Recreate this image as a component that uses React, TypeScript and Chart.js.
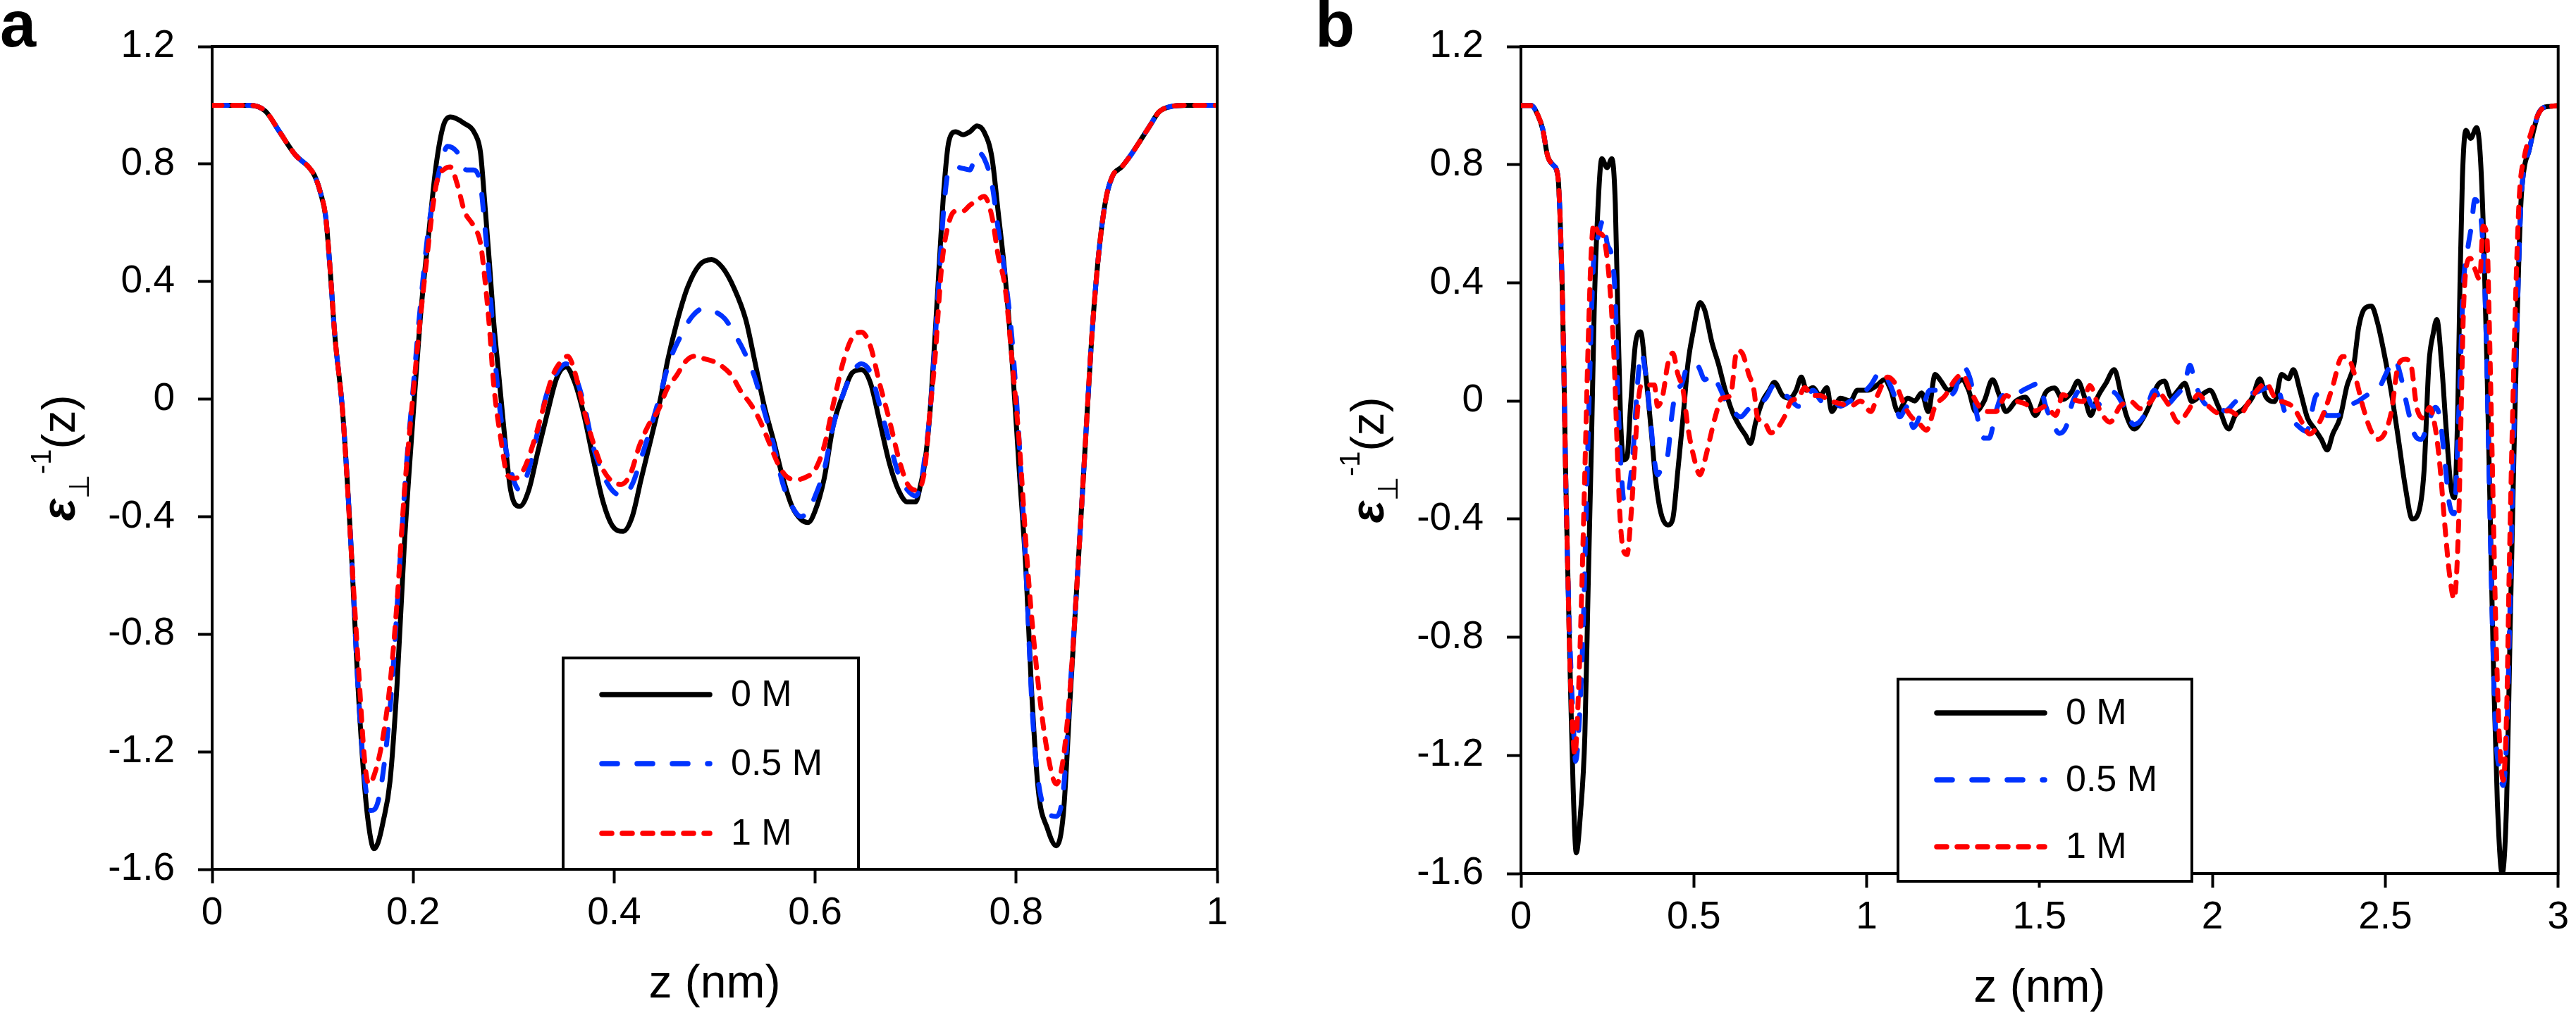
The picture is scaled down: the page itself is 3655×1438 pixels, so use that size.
import React, { useEffect, useRef } from 'react';
import { Chart, registerables } from 'chart.js';

Chart.register(...registerables);

const FONT = '"Liberation Sans", Arial, "DejaVu Sans", sans-serif';

// ---------- tick values / labels ----------
const A_X_TICKS = [0, 0.2, 0.4, 0.6, 0.8, 1];
const A_X_LABELS = ['0', '0.2', '0.4', '0.6', '0.8', '1'];
const B_X_TICKS = [0, 0.5, 1, 1.5, 2, 2.5, 3];
const B_X_LABELS = ['0', '0.5', '1', '1.5', '2', '2.5', '3'];
const Y_TICKS = [-1.6, -1.2, -0.8, -0.4, 0, 0.4, 0.8, 1.2];
const Y_LABELS = ['-1.6', '-1.2', '-0.8', '-0.4', '0', '0.4', '0.8', '1.2'];
const SERIES_NAMES = ['0 M', '0.5 M', '1 M'];
const X_TITLE = 'z (nm)';
const PANEL_LETTERS = ['a', 'b'];

// ---------- panel a data: [z (nm), eps^-1] ----------
const A_0M: [number, number][] = [
  [0, 1], [0.02, 1], [0.037, 1], [0.053, 0.98], [0.067, 0.91], [0.083, 0.83], [0.096, 0.79], [0.102, 0.76],
  [0.108, 0.7], [0.113, 0.62], [0.117, 0.46], [0.122, 0.22], [0.13, -0.05], [0.139, -0.55], [0.145, -0.97],
  [0.152, -1.33], [0.157, -1.48], [0.161, -1.53], [0.165, -1.51], [0.17, -1.44], [0.177, -1.3], [0.184, -0.97],
  [0.191, -0.51], [0.2, -0.055], [0.207, 0.27], [0.216, 0.58], [0.223, 0.8], [0.23, 0.93], [0.237, 0.96],
  [0.25, 0.94], [0.262, 0.9], [0.267, 0.84], [0.271, 0.68], [0.276, 0.46], [0.28, 0.27], [0.285, 0.09],
  [0.29, -0.09], [0.297, -0.31], [0.306, -0.365], [0.315, -0.31], [0.324, -0.18], [0.333, -0.055], [0.343, 0.073],
  [0.352, 0.11], [0.361, 0.055], [0.37, -0.055], [0.379, -0.2], [0.389, -0.35], [0.398, -0.43], [0.409, -0.45],
  [0.418, -0.4], [0.427, -0.27], [0.437, -0.13], [0.446, 0], [0.453, 0.128], [0.462, 0.256], [0.473, 0.38],
  [0.485, 0.457], [0.497, 0.475], [0.508, 0.447], [0.519, 0.38], [0.531, 0.27], [0.54, 0.128], [0.549, -0.018],
  [0.559, -0.146], [0.568, -0.27], [0.577, -0.365], [0.586, -0.41], [0.593, -0.42], [0.6, -0.38], [0.609, -0.27],
  [0.618, -0.09], [0.628, 0.018], [0.637, 0.09], [0.646, 0.1], [0.655, 0.055], [0.664, -0.073], [0.674, -0.22],
  [0.683, -0.31], [0.692, -0.35], [0.7, -0.35], [0.705, -0.29], [0.709, -0.22], [0.714, -0.055], [0.719, 0.2],
  [0.724, 0.49], [0.728, 0.71], [0.733, 0.877], [0.74, 0.91], [0.747, 0.9], [0.754, 0.91], [0.761, 0.93],
  [0.768, 0.91], [0.776, 0.82], [0.782, 0.64], [0.789, 0.42], [0.796, 0.128], [0.803, -0.24], [0.81, -0.6],
  [0.815, -0.97], [0.822, -1.33], [0.831, -1.46], [0.84, -1.52], [0.847, -1.41], [0.854, -1.0], [0.861, -0.6],
  [0.868, -0.2], [0.875, 0.2], [0.882, 0.49], [0.889, 0.676], [0.896, 0.76], [0.905, 0.79], [0.914, 0.83],
  [0.923, 0.877], [0.933, 0.93], [0.942, 0.977], [0.953, 0.995], [0.97, 1], [1, 1],
];
const A_05M: [number, number][] = [
  [0, 1], [0.02, 1], [0.037, 1], [0.053, 0.98], [0.067, 0.91], [0.083, 0.83], [0.096, 0.79], [0.102, 0.76],
  [0.108, 0.7], [0.113, 0.62], [0.117, 0.46], [0.122, 0.22], [0.13, -0.05], [0.139, -0.55], [0.145, -0.97],
  [0.152, -1.3], [0.158, -1.4], [0.165, -1.37], [0.172, -1.22], [0.179, -0.97], [0.186, -0.6], [0.193, -0.24],
  [0.2, 0.037], [0.207, 0.31], [0.216, 0.6], [0.223, 0.73], [0.23, 0.83], [0.234, 0.86], [0.244, 0.84],
  [0.253, 0.78], [0.26, 0.78], [0.267, 0.73], [0.271, 0.6], [0.276, 0.4], [0.28, 0.2], [0.287, -0.055],
  [0.297, -0.24], [0.306, -0.31], [0.315, -0.24], [0.324, -0.11], [0.333, 0.018], [0.343, 0.09], [0.352, 0.12],
  [0.361, 0.08], [0.37, -0.018], [0.379, -0.16], [0.389, -0.256], [0.398, -0.31], [0.409, -0.33], [0.418, -0.29],
  [0.427, -0.2], [0.437, -0.09], [0.446, 0.018], [0.455, 0.128], [0.467, 0.22], [0.478, 0.283], [0.49, 0.31],
  [0.499, 0.3], [0.51, 0.274], [0.52, 0.22], [0.529, 0.164], [0.54, 0.073], [0.549, -0.037], [0.559, -0.16],
  [0.568, -0.29], [0.577, -0.365], [0.586, -0.4], [0.593, -0.38], [0.6, -0.33], [0.609, -0.24], [0.618, -0.09],
  [0.628, 0.018], [0.637, 0.09], [0.646, 0.12], [0.655, 0.09], [0.664, -0.018], [0.674, -0.146], [0.683, -0.256],
  [0.692, -0.31], [0.7, -0.33], [0.705, -0.29], [0.709, -0.2], [0.714, -0.055], [0.719, 0.18], [0.724, 0.45],
  [0.728, 0.65], [0.733, 0.78], [0.74, 0.79], [0.747, 0.785], [0.754, 0.78], [0.761, 0.84], [0.768, 0.82],
  [0.776, 0.73], [0.782, 0.58], [0.789, 0.42], [0.796, 0.2], [0.803, -0.146], [0.81, -0.6], [0.816, -1.06],
  [0.822, -1.3], [0.832, -1.41], [0.84, -1.42], [0.847, -1.33], [0.854, -0.97], [0.861, -0.6], [0.868, -0.2],
  [0.875, 0.2], [0.882, 0.49], [0.889, 0.676], [0.896, 0.76], [0.905, 0.79], [0.914, 0.83], [0.923, 0.877],
  [0.933, 0.93], [0.942, 0.977], [0.953, 0.995], [0.97, 1], [1, 1],
];
const A_1M: [number, number][] = [
  [0, 1], [0.02, 1], [0.037, 1], [0.053, 0.98], [0.067, 0.91], [0.083, 0.83], [0.096, 0.79], [0.102, 0.76],
  [0.108, 0.7], [0.113, 0.62], [0.117, 0.46], [0.122, 0.22], [0.13, -0.05], [0.139, -0.55], [0.145, -0.88],
  [0.152, -1.24], [0.156, -1.31], [0.163, -1.26], [0.17, -1.15], [0.177, -0.97], [0.184, -0.69], [0.191, -0.33],
  [0.198, -0.055], [0.205, 0.2], [0.214, 0.49], [0.223, 0.73], [0.232, 0.785], [0.237, 0.79], [0.244, 0.73],
  [0.251, 0.64], [0.26, 0.59], [0.267, 0.53], [0.271, 0.42], [0.276, 0.24], [0.28, 0.055], [0.287, -0.13],
  [0.294, -0.26], [0.301, -0.27], [0.31, -0.24], [0.32, -0.146], [0.329, -0.037], [0.338, 0.073], [0.347, 0.128],
  [0.354, 0.146], [0.361, 0.09], [0.37, -0.037], [0.379, -0.146], [0.389, -0.24], [0.398, -0.28], [0.407, -0.29],
  [0.416, -0.256], [0.425, -0.16], [0.434, -0.09], [0.444, -0.037], [0.453, 0.037], [0.462, 0.08], [0.471, 0.128],
  [0.48, 0.146], [0.49, 0.137], [0.499, 0.128], [0.508, 0.11], [0.517, 0.08], [0.526, 0.027], [0.536, -0.018],
  [0.545, -0.073], [0.554, -0.146], [0.563, -0.22], [0.572, -0.265], [0.582, -0.274], [0.591, -0.265], [0.6, -0.24],
  [0.609, -0.16], [0.618, -0.018], [0.628, 0.128], [0.637, 0.21], [0.646, 0.228], [0.655, 0.18], [0.664, 0.055],
  [0.674, -0.073], [0.683, -0.2], [0.692, -0.29], [0.701, -0.31], [0.709, -0.24], [0.714, -0.05], [0.719, 0.128],
  [0.726, 0.457], [0.733, 0.6], [0.74, 0.64], [0.747, 0.64], [0.754, 0.66], [0.761, 0.676], [0.768, 0.69],
  [0.776, 0.62], [0.782, 0.49], [0.789, 0.38], [0.796, 0.128], [0.803, -0.146], [0.812, -0.6], [0.822, -0.97],
  [0.831, -1.2], [0.84, -1.31], [0.847, -1.22], [0.854, -0.97], [0.861, -0.6], [0.868, -0.2], [0.875, 0.2],
  [0.882, 0.49], [0.889, 0.676], [0.896, 0.76], [0.905, 0.79], [0.914, 0.83], [0.923, 0.877], [0.933, 0.93],
  [0.942, 0.977], [0.953, 0.995], [0.97, 1], [1, 1],
];

// ---------- panel b data ----------
const B_0M: [number, number][] = [
  [0, 1], [0.03, 1], [0.048, 0.97], [0.063, 0.92], [0.077, 0.83], [0.092, 0.8], [0.107, 0.76], [0.113, 0.63],
  [0.119, 0.4], [0.124, 0.126], [0.129, -0.23], [0.136, -0.6], [0.143, -0.95], [0.151, -1.31], [0.16, -1.53],
  [0.172, -1.4], [0.185, -1.13], [0.195, -0.6], [0.204, -0.144], [0.212, 0.31], [0.221, 0.61], [0.234, 0.82],
  [0.249, 0.79], [0.263, 0.82], [0.273, 0.667], [0.28, 0.31], [0.288, -0.054], [0.297, -0.2], [0.307, -0.19],
  [0.317, -0.018], [0.332, 0.2], [0.346, 0.234], [0.361, 0.09], [0.376, -0.09], [0.39, -0.27], [0.405, -0.38],
  [0.425, -0.42], [0.439, -0.4], [0.454, -0.234], [0.469, -0.054], [0.483, 0.126], [0.498, 0.234], [0.518, 0.333],
  [0.532, 0.306], [0.552, 0.2], [0.571, 0.126], [0.591, 0.036], [0.611, -0.036], [0.63, -0.081], [0.65, -0.117],
  [0.664, -0.144], [0.679, -0.072], [0.699, 0], [0.718, 0.036], [0.733, 0.063], [0.757, 0.018], [0.777, 0.009],
  [0.796, 0.036], [0.811, 0.081], [0.826, 0.036], [0.845, 0.045], [0.865, 0.018], [0.885, 0.045], [0.899, -0.036],
  [0.924, 0.009], [0.953, 0], [0.973, 0.036], [1.002, 0.036], [1.031, 0.054], [1.051, 0.072], [1.07, 0.036],
  [1.09, -0.036], [1.119, 0.009], [1.139, 0], [1.159, 0.027], [1.178, -0.036], [1.198, 0.09], [1.212, 0.072],
  [1.237, 0.036], [1.256, 0.054], [1.276, 0.072], [1.295, 0.036], [1.315, -0.036], [1.34, 0], [1.364, 0.072],
  [1.384, 0.018], [1.403, -0.036], [1.432, 0], [1.459, 0.013], [1.488, -0.049], [1.518, 0.029], [1.543, 0.044],
  [1.567, 0.005], [1.592, 0.029], [1.611, 0.067], [1.63, 0.013], [1.648, -0.049], [1.668, 0.013], [1.692, 0.06],
  [1.716, 0.106], [1.736, 0.021], [1.751, -0.049], [1.774, -0.095], [1.797, -0.064], [1.817, -0.018], [1.841, 0.052],
  [1.861, 0.067], [1.881, 0.013], [1.901, 0.036], [1.92, 0.06], [1.94, -0.002], [1.969, 0.021], [1.993, 0.036],
  [2.017, -0.018], [2.047, -0.095], [2.066, -0.049], [2.09, -0.026], [2.116, 0.013], [2.137, 0.075], [2.155, 0.013],
  [2.18, -0.002], [2.2, 0.09], [2.22, 0.075], [2.234, 0.106], [2.254, 0.032], [2.275, -0.058], [2.295, -0.094],
  [2.315, -0.13], [2.332, -0.166], [2.348, -0.112], [2.369, -0.058], [2.389, 0.05], [2.409, 0.123], [2.423, 0.249],
  [2.44, 0.312], [2.46, 0.321], [2.477, 0.267], [2.497, 0.159], [2.517, 0.032], [2.538, -0.13], [2.558, -0.292],
  [2.578, -0.4], [2.595, -0.382], [2.612, -0.238], [2.626, 0.123], [2.639, 0.231], [2.649, 0.276], [2.663, 0.123],
  [2.676, -0.094], [2.69, -0.292], [2.7, -0.328], [2.709, -0.058], [2.716, 0.393], [2.723, 0.754], [2.733, 0.916],
  [2.747, 0.889], [2.764, 0.925], [2.774, 0.844], [2.784, 0.573], [2.794, 0.123], [2.804, -0.418], [2.814, -0.959],
  [2.824, -1.356], [2.838, -1.6], [2.851, -1.356], [2.861, -0.779], [2.871, -0.238], [2.882, 0.303], [2.892, 0.664],
  [2.902, 0.79], [2.915, 0.844], [2.929, 0.916], [2.942, 0.97], [2.956, 0.992], [2.975, 0.997], [3, 1],
];
const B_05M: [number, number][] = [
  [0, 1], [0.03, 1], [0.048, 0.97], [0.063, 0.92], [0.077, 0.83], [0.092, 0.8], [0.107, 0.76], [0.113, 0.63],
  [0.119, 0.4], [0.124, 0.126], [0.129, -0.23], [0.136, -0.6], [0.146, -0.95], [0.153, -1.13], [0.158, -1.22],
  [0.168, -1.1], [0.18, -0.77], [0.19, -0.32], [0.2, 0.126], [0.209, 0.45], [0.224, 0.56], [0.237, 0.61],
  [0.25, 0.53], [0.263, 0.486], [0.273, 0.342], [0.28, 0.036], [0.29, -0.234], [0.299, -0.342], [0.312, -0.306],
  [0.325, -0.162], [0.337, 0.054], [0.348, 0.162], [0.361, 0.09], [0.374, -0.054], [0.386, -0.2], [0.395, -0.25],
  [0.41, -0.216], [0.425, -0.18], [0.436, -0.054], [0.449, 0.036], [0.464, 0.054], [0.478, 0.108], [0.493, 0.126],
  [0.513, 0.117], [0.532, 0.072], [0.552, 0.09], [0.571, 0.054], [0.596, -0.009], [0.615, -0.036], [0.635, -0.054],
  [0.659, -0.027], [0.684, -0.018], [0.708, 0.009], [0.733, 0.054], [0.757, 0.027], [0.777, 0.009], [0.802, -0.018],
  [0.826, 0.018], [0.845, 0.036], [0.87, 0], [0.895, 0.009], [0.924, -0.018], [0.953, 0], [0.982, 0.018],
  [1.012, 0.054], [1.041, 0.1], [1.061, 0.072], [1.08, 0.018], [1.095, -0.054], [1.119, -0.018], [1.134, -0.09],
  [1.159, -0.036], [1.183, 0.036], [1.207, 0.036], [1.232, 0.018], [1.256, 0.036], [1.276, 0.117], [1.3, 0.072],
  [1.32, -0.054], [1.34, -0.126], [1.354, -0.126], [1.374, -0.036], [1.393, 0.018], [1.423, 0.018], [1.452, 0.036],
  [1.479, 0.052], [1.498, 0.06], [1.518, -0.018], [1.537, -0.072], [1.557, -0.11], [1.577, -0.087], [1.596, -0.002],
  [1.626, 0.044], [1.655, -0.018], [1.685, -0.002], [1.714, 0.029], [1.744, -0.018], [1.773, -0.08], [1.803, -0.049],
  [1.832, 0.036], [1.861, -0.018], [1.891, 0.013], [1.92, 0.06], [1.935, 0.121], [1.95, 0.06], [1.979, -0.01],
  [2.008, -0.018], [2.037, -0.033], [2.067, -0.002], [2.096, 0.021], [2.126, 0.029], [2.155, 0.044], [2.184, 0.052],
  [2.213, -0.049], [2.243, -0.08], [2.272, -0.103], [2.302, 0.021], [2.331, -0.049], [2.361, -0.049], [2.39, -0.018],
  [2.42, -0.002], [2.449, 0.021], [2.478, 0.036], [2.508, 0.106], [2.527, 0.141], [2.544, 0.087], [2.564, -0.022],
  [2.584, -0.112], [2.604, -0.13], [2.624, -0.076], [2.645, -0.022], [2.658, -0.058], [2.672, -0.202], [2.685, -0.346],
  [2.699, -0.382], [2.712, -0.058], [2.726, 0.393], [2.739, 0.519], [2.749, 0.592], [2.759, 0.682], [2.769, 0.664],
  [2.78, 0.573], [2.79, 0.303], [2.8, -0.238], [2.81, -0.779], [2.82, -1.14], [2.83, -1.248], [2.841, -1.302],
  [2.851, -1.14], [2.861, -0.689], [2.871, -0.148], [2.882, 0.303], [2.892, 0.664], [2.902, 0.79], [2.915, 0.844],
  [2.929, 0.916], [2.942, 0.97], [2.956, 0.992], [2.975, 0.997], [3, 1],
];
const B_1M: [number, number][] = [
  [0, 1], [0.03, 1], [0.048, 0.97], [0.063, 0.92], [0.077, 0.83], [0.092, 0.8], [0.107, 0.76], [0.113, 0.63],
  [0.119, 0.4], [0.124, 0.126], [0.129, -0.23], [0.136, -0.6], [0.141, -0.86], [0.149, -1.1], [0.156, -1.2],
  [0.165, -1.03], [0.175, -0.68], [0.185, -0.234], [0.195, 0.216], [0.204, 0.52], [0.211, 0.6], [0.224, 0.57],
  [0.237, 0.56], [0.249, 0.486], [0.26, 0.342], [0.27, 0.126], [0.278, -0.144], [0.286, -0.38], [0.296, -0.505],
  [0.307, -0.52], [0.317, -0.41], [0.327, -0.234], [0.337, -0.036], [0.348, 0.054], [0.366, 0.054], [0.386, 0.054],
  [0.395, -0.018], [0.41, 0.018], [0.425, 0.126], [0.439, 0.162], [0.454, 0.09], [0.469, 0.036], [0.483, -0.09],
  [0.498, -0.18], [0.518, -0.25], [0.532, -0.2], [0.547, -0.126], [0.562, -0.054], [0.581, 0.009], [0.606, 0.018],
  [0.625, 0.171], [0.64, 0.162], [0.659, 0.09], [0.674, 0.036], [0.684, -0.054], [0.704, -0.072], [0.723, -0.108],
  [0.743, -0.09], [0.762, -0.054], [0.782, 0], [0.802, 0.009], [0.821, 0.045], [0.841, 0.018], [0.865, 0.018],
  [0.894, 0], [0.924, -0.009], [0.953, -0.018], [0.982, 0], [1.012, -0.036], [1.031, 0.018], [1.061, 0.081],
  [1.085, 0.054], [1.11, -0.018], [1.129, -0.054], [1.149, -0.072], [1.173, -0.099], [1.198, -0.018], [1.227, 0.018],
  [1.256, 0.072], [1.276, 0.09], [1.3, 0.036], [1.325, -0.018], [1.35, -0.036], [1.374, -0.036], [1.403, 0.018],
  [1.432, 0], [1.459, -0.01], [1.488, -0.033], [1.518, -0.018], [1.547, -0.049], [1.567, 0.021], [1.596, 0.005],
  [1.626, -0.002], [1.645, 0.052], [1.675, -0.033], [1.704, -0.072], [1.733, -0.018], [1.763, -0.002], [1.792, -0.026],
  [1.822, -0.002], [1.842, 0.029], [1.871, -0.01], [1.901, -0.072], [1.93, -0.033], [1.959, 0.021], [1.989, -0.018],
  [2.018, -0.041], [2.047, -0.033], [2.077, -0.049], [2.106, -0.002], [2.135, 0.044], [2.155, 0.06], [2.184, 0.005],
  [2.207, -0.004], [2.234, -0.022], [2.261, -0.076], [2.281, -0.112], [2.308, -0.076], [2.328, -0.022], [2.348, 0.05],
  [2.375, 0.15], [2.395, 0.141], [2.416, 0.069], [2.436, -0.022], [2.456, -0.094], [2.477, -0.13], [2.497, -0.112],
  [2.517, -0.04], [2.538, 0.123], [2.558, 0.141], [2.574, 0.123], [2.591, -0.022], [2.612, -0.058], [2.628, -0.022],
  [2.645, -0.094], [2.658, -0.22], [2.672, -0.418], [2.685, -0.58], [2.699, -0.67], [2.712, -0.418], [2.719, -0.058],
  [2.726, 0.303], [2.736, 0.465], [2.746, 0.483], [2.759, 0.447], [2.773, 0.411], [2.783, 0.592], [2.794, 0.556],
  [2.8, 0.303], [2.81, -0.238], [2.82, -0.779], [2.83, -1.14], [2.841, -1.284], [2.851, -1.05], [2.858, -0.6],
  [2.868, -0.058], [2.878, 0.393], [2.888, 0.7], [2.902, 0.826], [2.919, 0.898], [2.935, 0.952], [2.956, 0.992],
  [2.975, 0.997], [3, 1],
];

// ---------- styles ----------
const STYLES = [
  { color: '#000000', dash: [] as number[], width: 7, cap: 'round' },
  { color: '#0033ff', dash: [22, 28], width: 7, cap: 'round' },
  { color: '#ff0000', dash: [14, 15], width: 7, cap: 'round' },
];

type Panel = {
  letter: string;
  series: [number, number][][];
  xMax: number;
  xTicks: number[];
  xLabels: string[];
  canvasLeft: number;
  canvasWidth: number;
  padTop: number;
  padRight: number;
  yAxisWidth: number;
  xAxisHeight: number;
  letterX: number;
  legend: { dx: number; dy: number; w: number; h: number; rows: number[] };
};

const PANEL_A: Panel = {
  letter: PANEL_LETTERS[0],
  series: [A_0M, A_05M, A_1M],
  xMax: 1,
  xTicks: A_X_TICKS,
  xLabels: A_X_LABELS,
  canvasLeft: 0,
  canvasWidth: 1840,
  padTop: 39,
  padRight: 113,
  yAxisWidth: 301,
  xAxisHeight: 204,
  letterX: 0,
  legend: { dx: 498, dy: 868, w: 419, h: 300, rows: [52, 150, 249] },
};

const PANEL_B: Panel = {
  letter: PANEL_LETTERS[1],
  series: [B_0M, B_05M, B_1M],
  xMax: 3,
  xTicks: B_X_TICKS,
  xLabels: B_X_LABELS,
  canvasLeft: 1840,
  canvasWidth: 1815,
  padTop: 32,
  padRight: 13,
  yAxisWidth: 318,
  xAxisHeight: 198,
  letterX: 26,
  legend: { dx: 535, dy: 898, w: 417, h: 287, rows: [48, 143, 238] },
};

const H = 1438;

function labelFor(ticks: number[], labels: string[], v: number) {
  const i = ticks.findIndex((t) => Math.abs(t - v) < 1e-9);
  return i >= 0 ? labels[i] : '';
}

function decorPlugin(panel: Panel) {
  return {
    id: 'decor',
    afterDraw(chart: any) {
      const ctx: CanvasRenderingContext2D = chart.ctx;
      const ca = chart.chartArea;
      ctx.save();
      // frame (top + right)
      ctx.strokeStyle = '#000';
      ctx.lineWidth = 4;
      ctx.lineCap = 'square';
      ctx.beginPath();
      ctx.moveTo(ca.left, ca.top);
      ctx.lineTo(ca.right, ca.top);
      ctx.lineTo(ca.right, ca.bottom);
      ctx.stroke();

      // legend
      const L = panel.legend;
      const bx = ca.left + L.dx;
      const by = ca.top + L.dy;
      ctx.fillStyle = '#fff';
      ctx.fillRect(bx, by, L.w, L.h);
      ctx.lineWidth = 4;
      ctx.strokeStyle = '#000';
      ctx.strokeRect(bx, by, L.w, L.h);
      SERIES_NAMES.forEach((name, i) => {
        const st = STYLES[i];
        const y = by + L.rows[i];
        ctx.save();
        ctx.strokeStyle = st.color;
        ctx.lineWidth = 7.5;
        ctx.lineCap = 'round';
        ctx.setLineDash(st.dash);
        ctx.beginPath();
        ctx.moveTo(bx + 55, y);
        ctx.lineTo(bx + 208, y);
        ctx.stroke();
        ctx.restore();
        ctx.fillStyle = '#000';
        ctx.font = `52px ${FONT}`;
        ctx.textAlign = 'left';
        ctx.textBaseline = 'middle';
        ctx.fillText(name, bx + 238, y + 2);
      });

      // x title
      ctx.fillStyle = '#000';
      ctx.font = `66px ${FONT}`;
      ctx.textAlign = 'center';
      ctx.textBaseline = 'middle';
      ctx.fillText(X_TITLE, (ca.left + ca.right) / 2, ca.bottom + 164);

      // y title (rotated): ε ⊥ -1 (z)
      const parts = [
        { t: 'ε', font: `italic bold 66px ${FONT}`, dy: 0 },
        { t: '⊥', font: `40px "DejaVu Sans", ${FONT}`, dy: 20 },
        { t: '-1', font: `40px ${FONT}`, dy: -34 },
        { t: '(z)', font: `66px ${FONT}`, dy: 0 },
      ];
      let total = 0;
      const widths = parts.map((p) => {
        ctx.font = p.font;
        const w = ctx.measureText(p.t).width;
        total += w;
        return w;
      });
      ctx.save();
      ctx.translate(ca.left - 195, (ca.top + ca.bottom) / 2);
      ctx.rotate(-Math.PI / 2);
      ctx.textAlign = 'left';
      ctx.textBaseline = 'alphabetic';
      let x = -total / 2;
      parts.forEach((p, i) => {
        ctx.font = p.font;
        ctx.fillText(p.t, x, p.dy);
        x += widths[i];
      });
      ctx.restore();

      // panel letter
      ctx.font = `bold 92px ${FONT}`;
      ctx.textAlign = 'left';
      ctx.textBaseline = 'alphabetic';
      ctx.fillText(panel.letter, panel.letterX, 66);
      ctx.restore();
    },
  };
}

function makeChart(canvas: HTMLCanvasElement, panel: Panel) {
  const datasets = panel.series.map((pts, i) => ({
    label: SERIES_NAMES[i],
    data: pts.map(([x, y]) => ({ x, y })),
    borderColor: STYLES[i].color,
    borderWidth: STYLES[i].width,
    borderDash: STYLES[i].dash,
    borderCapStyle: STYLES[i].cap,
    borderJoinStyle: 'round',
    pointRadius: 0,
    pointHoverRadius: 0,
    fill: false,
    tension: 0.3,
    cubicInterpolationMode: 'monotone',
    order: 3 - i,
  }));

  return new Chart(canvas, {
    type: 'line',
    data: { datasets } as any,
    options: {
      animation: false,
      responsive: false,
      maintainAspectRatio: false,
      devicePixelRatio: 1,
      events: [],
      layout: {
        autoPadding: false,
        padding: { top: panel.padTop, right: panel.padRight, bottom: 0, left: 0 },
      },
      plugins: {
        legend: { display: false },
        tooltip: { enabled: false },
        title: { display: false },
      },
      scales: {
        x: {
          type: 'linear',
          min: 0,
          max: panel.xMax,
          afterBuildTicks: (s: any) => {
            s.ticks = panel.xTicks.map((v) => ({ value: v }));
          },
          afterFit: (s: any) => {
            s.height = panel.xAxisHeight;
          },
          ticks: {
            autoSkip: false,
            maxRotation: 0,
            minRotation: 0,
            padding: 10,
            color: '#000',
            font: { family: FONT, size: 55 },
            callback: (v: any) => labelFor(panel.xTicks, panel.xLabels, Number(v)),
          },
          grid: {
            display: true,
            drawOnChartArea: false,
            drawTicks: true,
            tickLength: 20,
            tickWidth: 4,
            tickColor: '#000',
            color: '#000',
          },
          border: { display: true, color: '#000', width: 4 },
        },
        y: {
          type: 'linear',
          min: -1.6,
          max: 1.2,
          afterBuildTicks: (s: any) => {
            s.ticks = Y_TICKS.map((v) => ({ value: v }));
          },
          afterFit: (s: any) => {
            s.width = panel.yAxisWidth;
          },
          ticks: {
            autoSkip: false,
            padding: 33,
            color: '#000',
            font: { family: FONT, size: 55 },
            callback: (v: any) => labelFor(Y_TICKS, Y_LABELS, Number(v)),
          },
          grid: {
            display: true,
            drawOnChartArea: false,
            drawTicks: true,
            tickLength: 20,
            tickWidth: 4,
            tickColor: '#000',
            color: '#000',
          },
          border: { display: true, color: '#000', width: 4 },
        },
      },
    } as any,
    plugins: [decorPlugin(panel)],
  });
}

export default function App() {
  const refA = useRef<HTMLCanvasElement>(null);
  const refB = useRef<HTMLCanvasElement>(null);

  useEffect(() => {
    const a = makeChart(refA.current!, PANEL_A);
    const b = makeChart(refB.current!, PANEL_B);
    return () => {
      a.destroy();
      b.destroy();
    };
  }, []);

  return (
    <div style={{ position: 'absolute', left: 0, top: 0, width: 3655, height: H, background: '#fff', overflow: 'hidden' }}>
      <canvas
        ref={refA}
        width={PANEL_A.canvasWidth}
        height={H}
        style={{ position: 'absolute', left: PANEL_A.canvasLeft, top: 0, width: PANEL_A.canvasWidth, height: H }}
      />
      <canvas
        ref={refB}
        width={PANEL_B.canvasWidth}
        height={H}
        style={{ position: 'absolute', left: PANEL_B.canvasLeft, top: 0, width: PANEL_B.canvasWidth, height: H }}
      />
    </div>
  );
}
